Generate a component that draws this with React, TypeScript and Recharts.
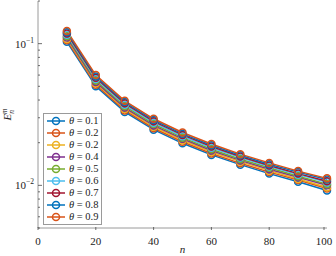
import { Line, LineChart, XAxis, YAxis } from "recharts";

const nValues = [10, 20, 30, 40, 50, 60, 70, 80, 90, 100];

const theta01 = [0.103, 0.05, 0.033, 0.0247, 0.0198, 0.0164, 0.014, 0.0121, 0.0106, 0.0092];
const theta02 = [0.1055, 0.0512, 0.0338, 0.0253, 0.0203, 0.0168, 0.0143, 0.0124, 0.0109, 0.0095];
const theta03 = [0.108, 0.0525, 0.0346, 0.0259, 0.0208, 0.0172, 0.0147, 0.0127, 0.0111, 0.0097];
const theta04 = [0.1105, 0.0537, 0.0354, 0.0265, 0.0213, 0.0176, 0.015, 0.013, 0.0114, 0.01];
const theta05 = [0.113, 0.055, 0.0362, 0.0271, 0.0217, 0.018, 0.0153, 0.0133, 0.0116, 0.0102];
const theta06 = [0.1155, 0.0562, 0.037, 0.0277, 0.0222, 0.0184, 0.0157, 0.0136, 0.0119, 0.0105];
const theta07 = [0.118, 0.0575, 0.0379, 0.0283, 0.0227, 0.0188, 0.016, 0.0138, 0.0121, 0.0107];
const theta08 = [0.1205, 0.0587, 0.0387, 0.0289, 0.0231, 0.0192, 0.0163, 0.0141, 0.0124, 0.011];
const theta09 = [0.123, 0.06, 0.0395, 0.0295, 0.0236, 0.0196, 0.0166, 0.0144, 0.0126, 0.0112];

const seriesValues = [theta01, theta02, theta03, theta04, theta05, theta06, theta07, theta08, theta09];
const seriesLabels = ["0.1", "0.2", "0.2", "0.4", "0.5", "0.6", "0.7", "0.8", "0.9"];
const seriesColors = [
  "#0072BD",
  "#D95319",
  "#EDB120",
  "#7E2F8E",
  "#77AC30",
  "#4DBEEE",
  "#A2142F",
  "#0072BD",
  "#D95319",
];

const xTicks = [0, 20, 40, 60, 80, 100];
const majorYTicks = [0.01, 0.1];
const minorYTicks = [0.005, 0.006, 0.007, 0.008, 0.009, 0.02, 0.03, 0.04, 0.05, 0.06, 0.07, 0.08, 0.09, 0.2];
const allYTicks = [...minorYTicks, ...majorYTicks].sort((a, b) => a - b);

const chartData = nValues.map((n, i) => {
  const row: Record<string, number> = { n };
  seriesValues.forEach((values, s) => {
    row[`s${s}`] = values[i];
  });
  return row;
});

const font = "'Liberation Serif', 'DejaVu Serif', serif";
const axisColor = "#9a9a9a";
const tickColor = "#4a4a4a";

function LeftTick({ x, y, payload }: any) {
  const major = majorYTicks.includes(payload.value);
  const exp = Math.round(Math.log10(payload.value));
  return (
    <g>
      <line x1={x} x2={x + (major ? 4 : 2)} y1={y} y2={y} stroke={tickColor} strokeWidth={0.8} />
      {major && (
        <text x={x - 4} y={y + 4} textAnchor="end" fontFamily={font} fontSize={11} fill="#222">
          10
          <tspan dy={-5} fontSize={7.5}>
            {exp === -1 ? "−1" : "−2"}
          </tspan>
        </text>
      )}
    </g>
  );
}

function RightTick({ x, y, payload }: any) {
  const major = majorYTicks.includes(payload.value);
  return <line x1={x} x2={x - (major ? 4 : 2)} y1={y} y2={y} stroke={tickColor} strokeWidth={0.8} />;
}

function BottomTick({ x, y, payload }: any) {
  return (
    <g>
      <line x1={x} x2={x} y1={y} y2={y - 3} stroke={tickColor} strokeWidth={0.8} />
      <text x={x} y={y + 15} textAnchor="middle" fontFamily={font} fontSize={11} fill="#222">
        {payload.value}
      </text>
    </g>
  );
}

function TopTick({ x, y }: any) {
  return <line x1={x} x2={x} y1={y} y2={y + 3} stroke={tickColor} strokeWidth={0.8} />;
}

function LegendBox() {
  return (
    <div
      style={{
        position: "absolute",
        left: 43,
        top: 113,
        border: "1px solid #9a9a9a",
        background: "#fff",
        padding: "1px 3px 1px 2px",
        fontFamily: font,
        fontSize: 10.5,
        lineHeight: "12px",
        color: "#222",
      }}
    >
      {seriesLabels.map((label, i) => (
        <div key={i} style={{ display: "flex", alignItems: "center", height: 12 }}>
          <svg width={20} height={12}>
            <line x1={1} x2={19} y1={6} y2={6} stroke={seriesColors[i]} strokeWidth={1.5} />
            <circle cx={10} cy={6} r={3.5} fill="none" stroke={seriesColors[i]} strokeWidth={1.5} />
          </svg>
          <span style={{ marginLeft: 3, whiteSpace: "nowrap" }}>
            <i>θ</i> = {label}
          </span>
        </div>
      ))}
    </div>
  );
}

export default function App() {
  return (
    <div style={{ position: "absolute", left: 0, top: 0, width: 336, height: 256, background: "#fff" }}>
      <LineChart width={336} height={256} data={chartData} margin={{ top: 1, right: 9, bottom: 0, left: 0 }}>
        <XAxis
          dataKey="n"
          type="number"
          domain={[0, 100]}
          ticks={xTicks}
          tick={<BottomTick />}
          tickLine={false}
          tickSize={0}
          axisLine={{ stroke: axisColor }}
          height={28}
          label={({ viewBox }: any) => (
            <text
              x={viewBox.x + viewBox.width / 2}
              y={253}
              textAnchor="middle"
              fontFamily={font}
              fontStyle="italic"
              fontSize={11}
              fill="#222"
            >
              n
            </text>
          )}
        />
        <XAxis
          xAxisId="top"
          orientation="top"
          dataKey="n"
          type="number"
          domain={[0, 100]}
          ticks={xTicks}
          tick={<TopTick />}
          tickLine={false}
          tickSize={0}
          axisLine={{ stroke: axisColor }}
          height={0}
        />
        <YAxis
          scale="log"
          type="number"
          domain={[0.005, 0.2]}
          allowDataOverflow
          ticks={allYTicks}
          interval={0}
          tick={<LeftTick />}
          tickLine={false}
          tickSize={0}
          tickMargin={0}
          axisLine={{ stroke: axisColor }}
          width={38}
          label={({ viewBox }: any) => (
            <text
              transform={`translate(11, ${viewBox.y + viewBox.height / 2}) rotate(-90)`}
              textAnchor="middle"
              fontFamily={font}
              fontSize={11}
              fontStyle="italic"
              fill="#222"
            >
              E
              <tspan dy={3} fontSize={7.5}>n</tspan>
              <tspan dx={-4} dy={-7} fontSize={7.5}>m</tspan>
            </text>
          )}
        />
        <YAxis
          yAxisId="right"
          orientation="right"
          scale="log"
          type="number"
          domain={[0.005, 0.2]}
          allowDataOverflow
          ticks={allYTicks}
          interval={0}
          tick={<RightTick />}
          tickLine={false}
          tickSize={0}
          tickMargin={0}
          axisLine={{ stroke: axisColor }}
          width={0}
        />
        {seriesValues.map((_, s) => (
          <Line
            key={s}
            dataKey={`s${s}`}
            type="linear"
            stroke={seriesColors[s]}
            strokeWidth={1.5}
            dot={{ r: 3.5, fill: "none", stroke: seriesColors[s], strokeWidth: 1.5 }}
            isAnimationActive={false}
          />
        ))}
      </LineChart>
      <LegendBox />
    </div>
  );
}
